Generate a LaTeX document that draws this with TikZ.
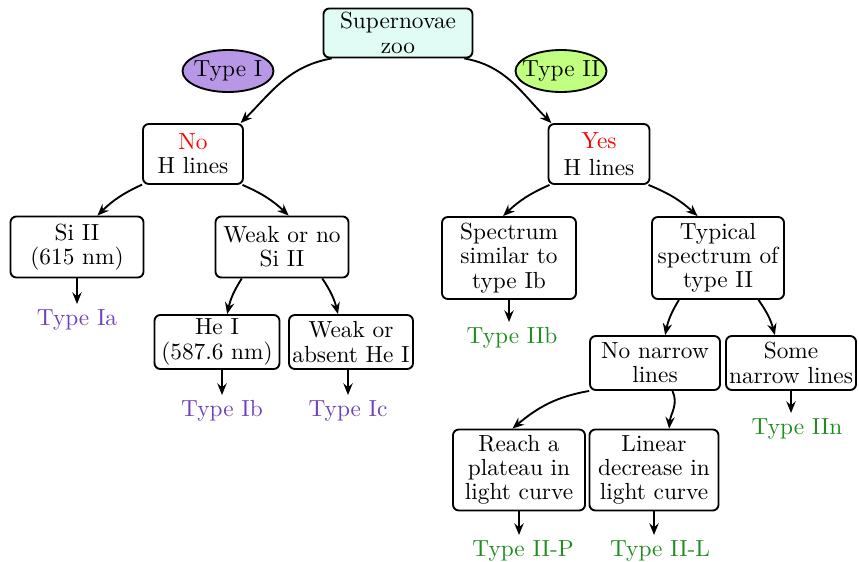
\documentclass[tikz,border=0pt]{standalone}
\usetikzlibrary{arrows.meta,shapes.geometric}
\definecolor{zoofill}{HTML}{E0FCF4}
\definecolor{typeIfill}{HTML}{B898E6}
\definecolor{typeIIfill}{HTML}{C0FF80}
\definecolor{typeItext}{HTML}{7040C0}
\definecolor{typeIItext}{HTML}{1E8C1E}
\tikzset{
  sz/.style 2 args={minimum width=#1*0.429pt, minimum height=#2*0.429pt},
  box/.style={draw, thick, rounded corners=2.5pt, align=center, inner sep=1pt,
    font=\fontsize{10}{10.4}\selectfont},
  tag/.style={draw, thick, ellipse, inner sep=0pt, font=\fontsize{10}{10.4}\selectfont},
  leaf/.style={anchor=north, inner sep=2pt, font=\fontsize{10}{10.4}\selectfont},
  leafI/.style={leaf, text=typeItext},
  leafII/.style={leaf, text=typeIItext},
  link/.style={thick, -{Stealth[length=5pt, width=4pt, inset=1.7pt]}},
}
\begin{document}
\begin{tikzpicture}[x=0.429pt, y=-0.429pt]
\useasboundingbox (0,0) rectangle (859,561);

% root and the two families
\node[box, sz={149}{49}, fill=zoofill] (zoo) at (398,33) {Supernovae\\zoo};
\node[tag, sz={91}{42}, fill=typeIfill] (tI) at (228,71) {\makebox[0pt]{Type I}};
\node[tag, sz={91}{42}, fill=typeIIfill] (tII) at (561,71) {\makebox[0pt]{Type II}};

% hydrogen lines
\node[box, sz={100}{60}] (noH) at (193,154) {\textcolor{red}{No}\\H lines};
\node[box, sz={101}{60}] (yesH) at (599,154) {\textcolor{red}{Yes}\\[1pt]H lines};

% type I branch
\node[box, sz={133}{61}] (si) at (77,247) {Si II\\(615 nm)};
\node[box, sz={133}{61}] (wsi) at (282,247) {Weak or no\\Si II};
\node[box, sz={125}{54}] (he) at (217,342) {He I\\(587.6 nm)};
\node[box, sz={124}{54}] (whe) at (351,342) {Weak or\\absent He I};

% type II branch
\node[box, sz={134}{82}] (spec) at (509,258) {Spectrum\\similar to\\type Ib};
\node[box, sz={132}{82}] (typ) at (718,258) {Typical\\spectrum of\\type II};
\node[box, sz={130}{54}] (nn) at (655,363) {No narrow\\lines};
\node[box, sz={130}{54}] (sn) at (791,363) {Some\\narrow lines};
\node[box, sz={132}{81}] (pl) at (519,470) {Reach a\\plateau in\\light curve};
\node[box, sz={129}{81}] (ld) at (654,470) {Linear\\decrease in\\light curve};

% resulting classes
\node[leafI] (ia) at (77,304) {Type Ia};
\node[leafI] (ib) at (222,395) {Type Ib};
\node[leafI] (ic) at (348,395) {Type Ic};
\node[leafII] (iib) at (512,322) {Type IIb};
\node[leafII] (iin) at (797,413) {Type IIn};
\node[leafII] (iip) at (523,535) {Type II-P};
\node[leafII] (iil) at (660,535) {Type II-L};

% branches
\draw[link] (zoo.201) to[out=190, in=45] (noH.33);
\draw[link] (zoo.-21) to[out=-10, in=135] (yesH.147);
\draw[link] (noH.211) to[bend right=10] (si.57);
\draw[link] (noH.-32) to[bend left=10] (wsi.78);
\draw[link] (yesH.212) to[bend right=10] (spec.98);
\draw[link] (yesH.-32) to[bend left=10] (typ.116);
\draw[link] (wsi.218) to[bend right=10] (he.70);
\draw[link] (wsi.-38) to[bend left=10] (whe.115);
\draw[link] (typ.227) to[bend right=10] (nn.70);
\draw[link] (typ.-46) to[bend left=10] (sn.120);
\draw[link] (nn.203) to[out=190, in=40] (pl.99);
\draw[link] (nn.-58) to[out=-65, in=85] (ld.70);

% leaves
\draw[link] (si.south) -- (si.south |- ia.north);
\draw[link] (he.south -| ib.north) -- (ib.north);
\draw[link] (whe.south -| ic.north) -- (ic.north);
\draw[link] (spec.south) -- (spec.south |- iib.north);
\draw[link] (sn.south) -- (sn.south |- iin.north);
\draw[link] (pl.south) -- (pl.south |- iip.north);
\draw[link] (ld.south) -- (ld.south |- iil.north);
\end{tikzpicture}
\end{document}
